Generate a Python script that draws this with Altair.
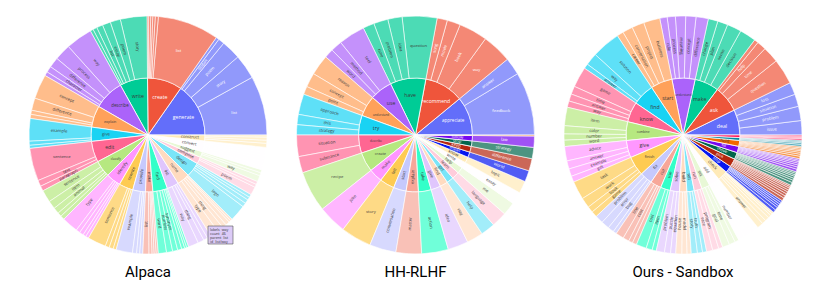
import math
import altair as alt
import pandas as pd

# ---------------- data ----------------
alpaca_verbs = ["generate", "create", "write", "describe", "explain", "give", "edit",
                "classify", "identify", "rewrite", "provide", "make", "find", "list",
                "name", "design", "compose", "suggest", "convert", "construct"]
alpaca_nouns = [
    ["list", "story", "poem", "slogan", "title"],
    ["list", "story", "poem", "plan", "name", "title"],
    ["story", "poem", "essay", "list", "sentence", "letter"],
    ["way", "process", "difference", "character", "feature"],
    ["concept", "difference", "process", "importance"],
    ["example", "list", "tip"],
    ["sentence", "text", "paragraph"],
    ["sentence", "item", "animal", "word", "type"],
    ["type", "word", "error", "theme", "part"],
    ["sentence", "paragraph", "text", "statement"],
    ["example", "list", "definition", "summary"],
    ["list", "prediction", "plan", "sentence", "joke"],
    ["word", "number", "synonym", "error", "sum", "area", "value"],
    ["way", "thing", "benefit", "example"],
    ["type", "thing", "country", "animal", "city", "food"],
    ["logo", "website", "game", "app", "experiment"],
    ["poem", "song", "tweet"],
    ["way", "name", "title"],
    ["sentence", "number", "text", "unit", "date", "time", "temperature"],
    ["sentence", "argument", "query", "table"],
]
alpaca_values = [
    [29, 12, 9.5, 3, 1.5],
    [30, 1.5, 1.2, 1, 1, 0.8],
    [13, 5, 4, 3, 2, 1.5],
    [13, 8, 5, 3, 2],
    [12, 6, 2, 2],
    [11, 2, 1.5],
    [16, 3, 2.5],
    [6, 4, 3, 2, 2],
    [8, 2, 2, 1.5, 1.5],
    [9, 2, 2, 1.5],
    [8, 2, 1.5, 1.5],
    [3, 1.5, 1, 1, 1],
    [4, 3, 2.5, 2, 1.5, 1, 1],
    [5, 3, 2, 2],
    [4, 3, 2, 2, 1, 1],
    [8, 2, 2, 1.5, 1.5],
    [4, 1.5, 1.5],
    [3, 1.5, 1.5],
    [2, 2, 1.5, 1.5, 1.5, 1.5, 1],
    [2, 1.5, 1.5, 1],
]

hh_verbs = ["appreciate", "recommend", "have", "use", "understand", "try", "describe",
            "create", "make", "tell", "start", "explain", "take", "give", "find", "get",
            "learn", "help", "write", "know", "mean", "keep", "stop", "follow", "buy"]
hh_nouns = [
    ["feedback", "answer"],
    ["way", "book", "movie", "song"],
    ["question", "idea", "problem", "time"],
    ["tool", "method", "word"],
    ["reason", "concept", "point"],
    ["approach", "this", "strategy"],
    ["situation", "substance"],
    ["recipe"], ["joke"], ["story"], ["conversation"], ["matter"], ["action"],
    ["idea"], ["way"], ["help"], ["language"], ["me"], ["essay"], ["topic"],
    ["world"], ["difference"], ["strategy"], ["law"], ["item"],
]
hh_values = [
    [31, 8.5], [14.5, 14, 6.5, 5], [17, 7, 7, 5.5], [13, 5.5, 4.5], [10, 7, 4],
    [10, 5, 5], [10.5, 8], [20], [14], [15], [13], [12.5], [13], [10], [8], [7],
    [7.5], [6.5], [6], [6], [5.5], [6], [5.5], [5.5], [0.5],
]

sandbox_verbs = ["deal", "ask", "make", "understand", "start", "find", "know", "combine",
                 "give", "finish", "fix", "cut", "use", "solve", "build", "tell", "run",
                 "set", "add", "check", "stop", "pick", "move", "fill", "hold", "play", "turn"]
sandbox_nouns = [
    ["issue", "problem", "situation", "loss"],
    ["question", "time", "help", "advice"],
    ["decision", "sense", "plan", "change"],
    ["difference", "concept", "meaning", "process", "rule"],
    ["business", "project", "conversation", "career"],
    ["solution", "way", "answer"],
    ["game", "time", "answer", "way"],
    ["item", "color", "number", "word"],
    ["advice", "answer", "example", "gift"],
    ["task", "work", "book", "game"],
    ["problem", "error", "bug", "car"],
    ["line", "cost", "paper", "hair"],
    ["tool", "item", "skill"],
    ["problem", "puzzle", "equation"],
    ["house", "model", "tower"],
    ["story", "truth", "time"],
    ["race", "program", "test"],
    ["goal", "time", "table"],
    ["number", "item", "sugar", "salt", "water", "detail"],
    ["answer", "list", "result", "weather", "time", "email"],
    ["car", "game", "process", "timer", "music", "noise"],
    ["item", "color", "card", "number", "fruit", "book", "shirt", "toy"],
    ["box", "piece", "car", "chair", "furniture", "table", "item"],
    ["glass", "form", "cup", "tank", "box", "bag", "gap"],
    ["ball", "cup", "door", "book", "breath", "hand", "pen"],
    ["game", "music", "role", "card"],
    ["light", "page", "key", "wheel"],
]
sandbox_values = [
    [7, 7, 6, 6], [12.5, 8, 4.5, 2], [8, 7, 5, 4.7], [6, 5, 5, 4, 3.6], [8, 6, 5, 3.2],
    [14, 6, 2.4], [10, 4, 3.5, 3.1], [9, 4, 3, 3.1], [7, 4, 3.7, 3], [9, 5, 3, 2.9],
    [4, 4, 3, 1.7], [4, 3, 2, 2.1], [5, 3, 2], [4, 3, 2.5], [3, 2.5, 2], [3, 2.5, 2],
    [3, 3, 2], [3.5, 3, 2], [3, 2, 2, 1.5, 1.5, 1], [3, 2, 2, 1.5, 1, 1],
    [1.5, 1.5, 1, 1, 1, 1], [1.5, 1.2, 1.2, 1.1, 1, 1, 0.8, 0.7],
    [1.5, 1.2, 1, 1, 0.8, 0.8, 0.7], [1.3, 1.1, 1, 0.9, 0.8, 0.7, 0.7],
    [1.2, 1, 0.9, 0.8, 0.7, 0.7, 0.7], [1, 0.8, 0.6, 0.6], [0.8, 0.6, 0.6, 0.5],
]

hover_lines = "labels=way\ncount=46\nparent=list\nid=list/way"

# ---------------- style ----------------
PALETTE = ["#636EFA", "#EF553B", "#00CC96", "#AB63FA", "#FFA15A", "#19D3F3", "#FF6692",
           "#B6E880", "#FF97FF", "#FECB52",
           "#C6C9FD", "#F7A799", "#33FFC9", "#E0C6FD", "#FFDBC0", "#7AE5F8", "#FFCCDB",
           "#E8F8D6", "#FFFDFF", "#FFEAB8",
           "#0717EF", "#B5270F", "#00664B", "#7608EF", "#F26800", "#08889D", "#FF0049",
           "#85D829", "#FF31FF", "#E9A401"]
R1, R2 = 57, 119
W = H = 250
FONT = "Open Sans"
THETA = alt.Scale(domain=[0, 1], range=[2.5 * math.pi, 0.5 * math.pi])


def text_color(hexcol):
    r, g, b = (int(hexcol[i:i + 2], 16) for i in (1, 3, 5))
    lum = 0.299 * r + 0.587 * g + 0.114 * b
    return "white" if lum < 130 else "#3a3a3a"


def frames(verbs, nouns, values):
    inner, outer = [], []
    k = 0
    for i, (v, ns, vs) in enumerate(zip(verbs, nouns, values)):
        col = PALETTE[i % len(PALETTE)]
        inner.append(dict(label=v, val=sum(vs), ord=i, color=col, tcolor=text_color(col)))
        for n, x in zip(ns, vs):
            outer.append(dict(label=n, parent=v, val=x, ord=k, color=col,
                              tcolor=text_color(col)))
            k += 1
    return pd.DataFrame(inner), pd.DataFrame(outer)


ROT = ("datum.frac >= {t} ? 0 : ((datum.mid*360 > 90 && datum.mid*360 < 270) ? "
       "(540 - datum.mid*360) % 360 : (360 - datum.mid*360) % 360)")


def stacked(ch):
    return ch.transform_stack(
        stack="val", groupby=[], as_=["s0", "s1"], offset="normalize",
        sort=[alt.SortField(field="ord", order="ascending")],
    ).transform_calculate(mid="(datum.s0 + datum.s1) / 2", frac="datum.s1 - datum.s0")


def sunburst(verbs, nouns, values, title, extra=None):
    inner_df, outer_df = frames(verbs, nouns, values)
    inner = stacked(alt.Chart(inner_df))
    outer = stacked(alt.Chart(outer_df))
    arc_enc = dict(theta=alt.Theta("s0:Q", scale=THETA, stack=None), theta2="s1:Q",
                   color=alt.Color("color:N", scale=None))
    inner_arc = inner.mark_arc(innerRadius=0, outerRadius=R1, stroke="white",
                               strokeWidth=0.8).encode(**arc_enc)
    outer_arc = outer.mark_arc(innerRadius=R1, outerRadius=R2, stroke="white",
                               strokeWidth=0.6, fillOpacity=0.7).encode(**arc_enc)
    txt_enc = dict(theta=alt.Theta("mid:Q", scale=THETA, stack=None),
                   text="label:N", color=alt.Color("tcolor:N", scale=None),
                   angle=alt.Angle("rot:Q", scale=None))
    inner_big = inner.transform_filter("datum.frac >= 0.045").transform_calculate(
        fs="max(3, min(5.2, 2*40*sin(PI*min(datum.frac, 0.5))/(length(datum.label)*0.6)))"
    ).mark_text(radius=40, font=FONT).encode(
        **{**txt_enc, "angle": alt.value(0)}, size=alt.Size("fs:Q", scale=None))
    inner_small = inner.transform_calculate(rot=ROT.format(t=1)).transform_filter(
        "datum.frac > 0.014 && datum.frac < 0.045").mark_text(
        radius=42, fontSize=4.2, font=FONT, limit=26).encode(**txt_enc)
    outer_txt = outer.transform_calculate(rot=ROT.format(t=0.04)).transform_filter(
        "datum.frac > 0.0065").mark_text(radius=89, fontSize=4.2, font=FONT,
                                         limit=56).encode(**txt_enc)
    layers = [inner_arc, outer_arc, inner_big, inner_small, outer_txt]
    if extra is not None:
        layers += extra
    return alt.layer(*layers).properties(
        width=W, height=H,
        title=alt.TitleParams(title, orient="bottom", fontSize=15, font="Roboto",
                              fontWeight="normal", color="black", offset=5),
    )


box_df = pd.DataFrame({"text": [hover_lines]})
hover_box = alt.Chart(box_df).mark_rect(fill="#DCCBF7", stroke="#555555",
                                        strokeWidth=0.6).encode(
    x=alt.value(185), x2=alt.value(210), y=alt.value(216), y2=alt.value(234))
hover_txt = alt.Chart(box_df).mark_text(align="left", baseline="top", lineBreak="\n",
                                        fontSize=3.6, lineHeight=4.2, font=FONT,
                                        color="#333333").encode(
    x=alt.value(187), y=alt.value(217.5), text="text:N")

c1 = sunburst(alpaca_verbs, alpaca_nouns, alpaca_values, "Alpaca", [hover_box, hover_txt])
c2 = sunburst(hh_verbs, hh_nouns, hh_values, "HH-RLHF")
c3 = sunburst(sandbox_verbs, sandbox_nouns, sandbox_values, "Ours - Sandbox")

chart = alt.hconcat(c1, c2, c3, spacing=17.5).properties(
    padding={"left": 15, "top": 2, "right": 0, "bottom": 0},
    background="white",
).configure_view(stroke=None)

chart.save("out.html", embed_options={"renderer": "svg", "actions": False})
